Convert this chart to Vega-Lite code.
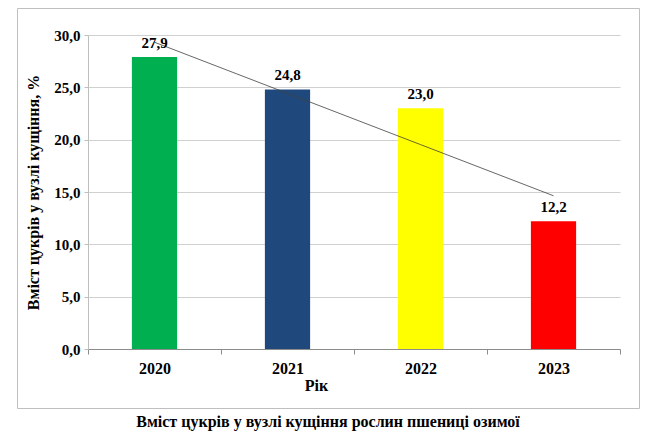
{
  "$schema": "https://vega.github.io/schema/vega-lite/v6.json",
  "width": 622,
  "height": 400,
  "autosize": {"type": "none"},
  "padding": {"left": 17, "top": 8, "right": 25, "bottom": 38},
  "background": "white",
  "config": {
    "view": {"stroke": "#bfbfbf", "strokeWidth": 1},
    "font": "Liberation Serif",
    "axis": {"labelFont": "Liberation Serif", "titleFont": "Liberation Serif"},
    "locale": {"number": {"decimal": ",", "thousands": " ", "grouping": [3], "currency": ["", ""]}}
  },
  "title": {
    "text": "Вміст цукрів у вузлі кущіння рослин пшениці озимої",
    "orient": "bottom",
    "font": "Liberation Serif",
    "fontSize": 16,
    "fontWeight": "bold",
    "color": "black",
    "offset": 6
  },
  "data": {
    "values": [
      {"year": "2020", "sugar": 27.9, "trend": 29.31},
      {"year": "2021", "sugar": 24.8, "trend": 24.42},
      {"year": "2022", "sugar": 23.0, "trend": 19.53},
      {"year": "2023", "sugar": 12.2, "trend": 14.64}
    ]
  },
  "encoding": {
    "x": {
      "field": "year",
      "type": "nominal",
      "scale": {"range": [71, 603], "paddingInner": 0, "paddingOuter": 0},
      "axis": {
        "title": "Рік",
        "labelAngle": 0,
        "offset": -59,
        "tickBand": "extent",
        "grid": false,
        "domainColor": "#8c8c8c",
        "tickColor": "#8c8c8c",
        "tickSize": 5,
        "labelFontSize": 16,
        "labelFontWeight": "bold",
        "labelColor": "black",
        "labelPadding": 6,
        "titleFontSize": 16,
        "titleFontWeight": "bold",
        "titleColor": "black",
        "titlePadding": 1,
        "titleX": 299,
        "titleAlign": "center"
      }
    }
  },
  "layer": [
    {
      "mark": {"type": "bar", "width": {"band": 0.34}},
      "encoding": {
        "y": {
          "field": "sugar",
          "type": "quantitative",
          "title": "Вміст цукрів у вузлі кущіння, %",
          "scale": {"domain": [0, 30], "range": [341, 27], "nice": false},
          "axis": {
            "values": [0, 5, 10, 15, 20, 25, 30],
            "format": ".1f",
            "offset": -71,
            "domainColor": "#bfbfbf",
            "tickColor": "#bfbfbf",
            "tickSize": 4,
            "gridColor": "#d0d0d0",
            "labelFontSize": 15,
            "labelFontWeight": "bold",
            "labelColor": "black",
            "labelPadding": 4,
            "titleFontSize": 16,
            "titleFontWeight": "bold",
            "titleColor": "black",
            "titlePadding": 12
          }
        },
        "color": {
          "field": "year",
          "type": "nominal",
          "scale": {"domain": ["2020", "2021", "2022", "2023"], "range": ["#00b050", "#1f497d", "#ffff00", "#ff0000"]},
          "legend": null
        }
      }
    },
    {
      "mark": {"type": "line", "color": "#404040", "strokeWidth": 0.8},
      "encoding": {
        "y": {"field": "trend", "type": "quantitative", "title": "Вміст цукрів у вузлі кущіння, %"}
      }
    },
    {
      "mark": {"type": "text", "dy": -6, "baseline": "bottom", "fontSize": 15, "fontWeight": "bold", "font": "Liberation Serif", "color": "black"},
      "encoding": {
        "y": {"field": "sugar", "type": "quantitative", "title": "Вміст цукрів у вузлі кущіння, %"},
        "text": {"field": "sugar", "type": "quantitative", "format": ".1f"}
      }
    }
  ]
}
